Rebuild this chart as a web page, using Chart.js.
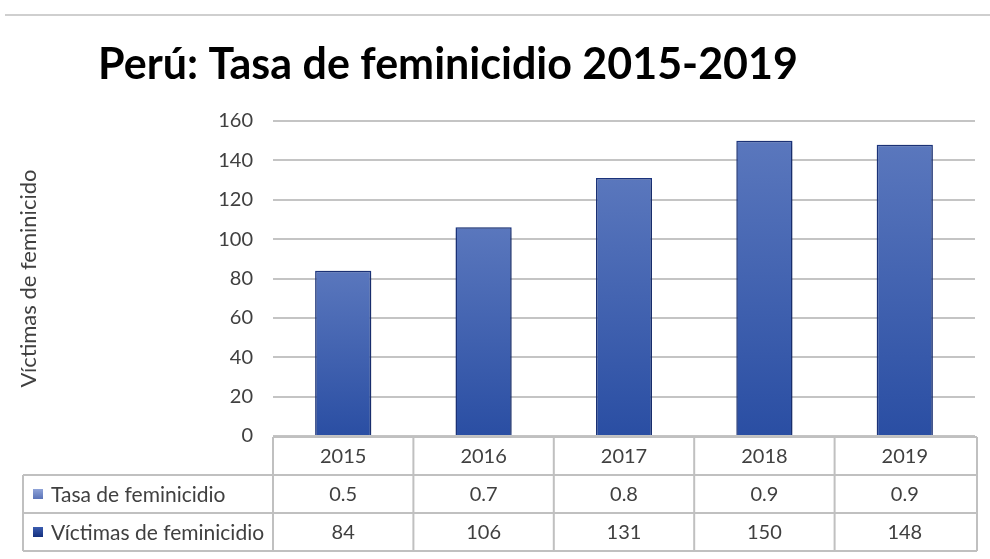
<!DOCTYPE html>
<html>
<head>
<meta charset="utf-8">
<script src="https://cdn.jsdelivr.net/npm/chart.js@4.4.1/dist/chart.umd.min.js"></script>
<style>
html,body{margin:0;padding:0;background:#ffffff;}
#wrap{width:990px;height:559px;position:relative;}
</style>
</head>
<body>
<div id="wrap"><canvas id="c" width="990" height="559"></canvas></div>
<script>
// ---- data ----
const years = ['2015', '2016', '2017', '2018', '2019'];
const tasaValues = [0.5, 0.7, 0.8, 0.9, 0.9];
const victimasValues = [84, 106, 131, 150, 148];
const yTickMin = 0;
const yTickMax = 160;
const yTickStep = 20;
const tasaLabel = 'Tasa de feminicidio';
const victimasLabel = 'Víctimas de feminicidio';
const chartTitle = 'Perú: Tasa de feminicidio 2015-2019';
const yAxisTitle = 'Víctimas de feminicido';

const FONT = 'Lato';
const TEXT = '#404040';

function barGradient(context) {
  const chart = context.chart;
  const area = chart.chartArea;
  if (!area) return '#3a5cb0';
  const yScale = chart.scales.y;
  const top = yScale.getPixelForValue(context.raw);
  const g = chart.ctx.createLinearGradient(0, top, 0, area.bottom);
  g.addColorStop(0, '#5a77bd');
  g.addColorStop(1, '#2a4ea3');
  return g;
}

const topLinePlugin = {
  id: 'topLine',
  beforeDraw(chart) {
    const ctx = chart.ctx;
    ctx.save();
    ctx.fillStyle = '#ffffff';
    ctx.fillRect(0, 0, chart.width, chart.height);
    ctx.strokeStyle = '#cfcfcf';
    ctx.lineWidth = 2;
    ctx.beginPath();
    ctx.moveTo(5, 15);
    ctx.lineTo(990, 15);
    ctx.stroke();
    // title (centred over the original Excel chart, left of canvas centre)
    ctx.fillStyle = '#000000';
    ctx.font = 'bold 43px ' + FONT;
    ctx.textAlign = 'center';
    ctx.textBaseline = 'alphabetic';
    ctx.fillText(chartTitle, 448, 79);
    ctx.restore();
  }
};

const shadowPlugin = {
  id: 'barShadow',
  beforeDatasetsDraw(chart) {
    const ctx = chart.ctx;
    ctx.save();
    ctx.shadowColor = 'rgba(0,0,0,0.35)';
    ctx.shadowBlur = 7;
    ctx.shadowOffsetX = 1;
    ctx.shadowOffsetY = 1;
  },
  afterDatasetsDraw(chart) {
    chart.ctx.restore();
  }
};

const tablePlugin = {
  id: 'dataTable',
  afterDraw(chart) {
    const ctx = chart.ctx;
    const area = chart.chartArea;
    const n = years.length;
    const colW = (area.right - area.left) / n;
    const rowH = 38;
    const top = area.bottom + 1;
    const legendLeft = 23;
    const right = area.right + 2;
    ctx.save();
    ctx.strokeStyle = '#c0c0c0';
    ctx.lineWidth = 2;
    ctx.beginPath();
    ctx.moveTo(area.left, top); ctx.lineTo(right, top);
    for (let r = 1; r <= 3; r++) {
      ctx.moveTo(legendLeft, top + r * rowH); ctx.lineTo(right, top + r * rowH);
    }
    for (let i = 0; i <= n; i++) {
      const x = i === n ? right : area.left + i * colW;
      ctx.moveTo(x, top); ctx.lineTo(x, top + 3 * rowH);
    }
    ctx.moveTo(legendLeft, top + rowH); ctx.lineTo(legendLeft, top + 3 * rowH);
    ctx.stroke();

    ctx.fillStyle = TEXT;
    ctx.font = '20px ' + FONT;
    ctx.textAlign = 'center';
    ctx.textBaseline = 'middle';
    const xs = chart.scales.x;
    const rowData = [years, tasaValues, victimasValues];
    for (let r = 0; r < 3; r++) {
      for (let i = 0; i < n; i++) {
        const cx = xs.getPixelForValue(i);
        ctx.fillText(String(rowData[r][i]), cx, top + r * rowH + rowH / 2 + 1);
      }
    }
    const keys = [
      { label: tasaLabel, c1: '#8fa3d8', c2: '#5a73b8' },
      { label: victimasLabel, c1: '#3b5cb0', c2: '#14307e' }
    ];
    ctx.textAlign = 'left';
    ctx.font = '21px ' + FONT;
    keys.forEach((k, j) => {
      const cy = top + (j + 1) * rowH + rowH / 2;
      const g = ctx.createLinearGradient(0, cy - 5, 0, cy + 5);
      g.addColorStop(0, k.c1);
      g.addColorStop(1, k.c2);
      ctx.fillStyle = g;
      ctx.fillRect(33, cy - 5, 10, 10);
      ctx.fillStyle = TEXT;
      ctx.fillText(k.label, 51, cy + 1);
    });
    ctx.restore();
  }
};

new Chart(document.getElementById('c'), {
  type: 'bar',
  data: {
    labels: years,
    datasets: [
      {
        label: victimasLabel,
        data: victimasValues,
        backgroundColor: barGradient,
        borderColor: '#1d3784',
        borderWidth: 1.5,
        barPercentage: 0.4,
        categoryPercentage: 1.0,
        grouped: false
      },
      {
        label: tasaLabel,
        data: tasaValues,
        hidden: true,
        backgroundColor: '#7d93cf',
        barPercentage: 0.4,
        categoryPercentage: 1.0,
        grouped: false
      }
    ]
  },
  options: {
    responsive: false,
    animation: false,
    layout: { padding: { top: 121, right: 15, bottom: 123, left: 0 } },
    plugins: {
      legend: { display: false },
      tooltip: { enabled: false },
      title: { display: false }
    },
    scales: {
      x: { display: false },
      y: {
        min: yTickMin,
        max: yTickMax,
        ticks: { stepSize: yTickStep, color: TEXT, font: { family: FONT, size: 20 }, padding: 20 },
        grid: { color: '#c4c4c4', lineWidth: 2, drawTicks: false },
        border: { display: false },
        title: {
          display: true,
          text: yAxisTitle,
          color: TEXT,
          font: { family: FONT, size: 22 },
          padding: { top: 16, bottom: 0 }
        },
        afterFit(scale) { scale.width = 273; }
      }
    }
  },
  plugins: [topLinePlugin, shadowPlugin, tablePlugin]
});
</script>
</body>
</html>
